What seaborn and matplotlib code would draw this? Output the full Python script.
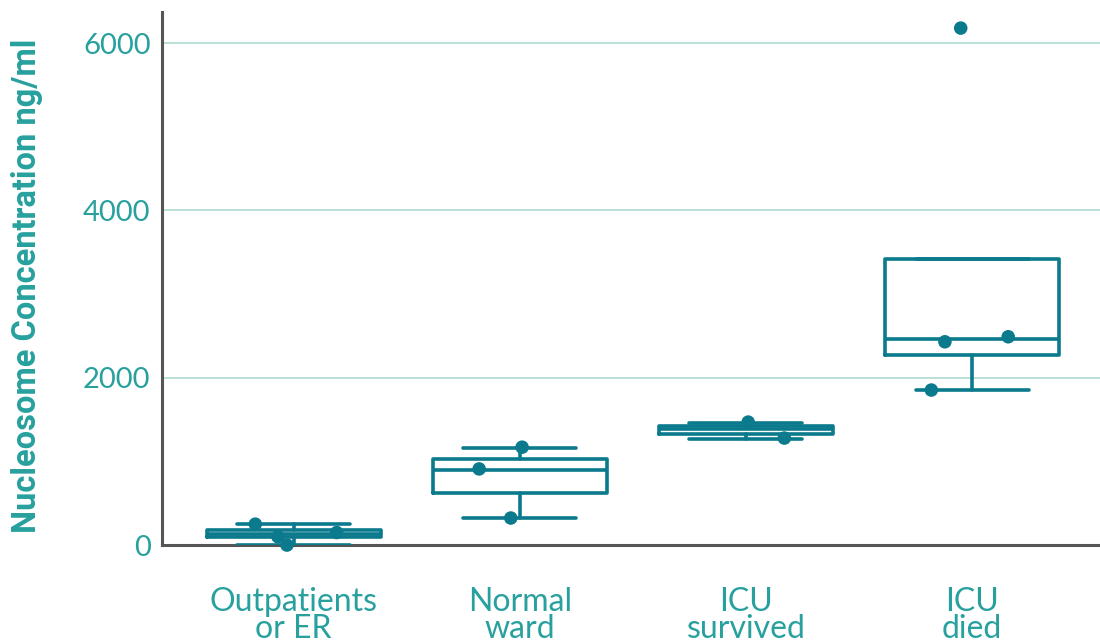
import numpy as np
import pandas as pd
import seaborn as sns
import matplotlib.pyplot as plt

# groupes et statistiques des boites
groups = ["Outpatients\nor ER", "Normal\nward", "ICU\nsurvived", "ICU\ndied"]
whis_low = [0, 326, 1270, 1853]
q1 = [100, 625, 1327, 2267]
median = [130, 896, 1390, 2459]
q3 = [185, 1024, 1422, 3415]
whis_high = [247, 1163, 1462, 3415]

# points individuels
point_group = [0, 0, 0, 0, 1, 1, 1, 2, 2, 3, 3, 3, 3]
point_value = [250, 100, 0, 150, 1170, 910, 323, 1470, 1279, 1853, 2430, 2490, 6180]
point_jitter = [-0.17, -0.07, -0.03, 0.19, 0.01, -0.18, -0.04, 0.01, 0.17, -0.18, -0.12, 0.16, -0.05]

box_color = "#0a7a8c"
text_color = "#27a09e"

sns.set_style("white")
plt.rcParams["font.family"] = ["Lato", "DejaVu Sans"]

fig = plt.figure(figsize=(11, 6.42), dpi=100)
ax = fig.add_axes([0.147, 0.151, 0.853, 0.83])

stats = []
for i in range(len(groups)):
    stats.append({"whislo": whis_low[i], "q1": q1[i], "med": median[i],
                  "q3": q3[i], "whishi": whis_high[i], "fliers": []})

line = dict(color=box_color, linewidth=2.6)
ax.bxp(stats, positions=range(len(groups)), widths=0.77, capwidths=0.5,
       boxprops=line, whiskerprops=line, capprops=line, medianprops=line,
       showfliers=False, manage_ticks=False, zorder=3)

pts = pd.DataFrame({"x": np.array(point_group) + np.array(point_jitter),
                    "y": point_value})
sns.scatterplot(data=pts, x="x", y="y", ax=ax, color=box_color, s=95,
                edgecolor="none", zorder=4, clip_on=False)

ax.set_xlim(-0.584, 3.566)
ax.set_ylim(0, 6370)
ax.set_yticks([0, 2000, 4000, 6000])
ax.set_xticks(range(len(groups)))
ax.set_xticklabels(groups, linespacing=0.9)
ax.yaxis.grid(True, color="#b5ddd6", linewidth=1.3, zorder=0)
ax.set_axisbelow(True)

ax.tick_params(axis="x", length=0, pad=30, labelsize=23, labelcolor=text_color)
ax.tick_params(axis="y", length=0, pad=8, labelsize=21, labelcolor=text_color)
ax.set_xlabel("")
ax.set_ylabel("Nucleosome Concentration ng/ml", fontsize=23.5, fontweight="bold",
              color=text_color, family=["Roboto", "DejaVu Sans"])
ax.yaxis.set_label_coords(-0.127, 0.486)

for s in ["top", "right"]:
    ax.spines[s].set_visible(False)
for s in ["left", "bottom"]:
    ax.spines[s].set_color("#555555")
    ax.spines[s].set_linewidth(2.2)

fig.savefig("out.png", dpi=100)
